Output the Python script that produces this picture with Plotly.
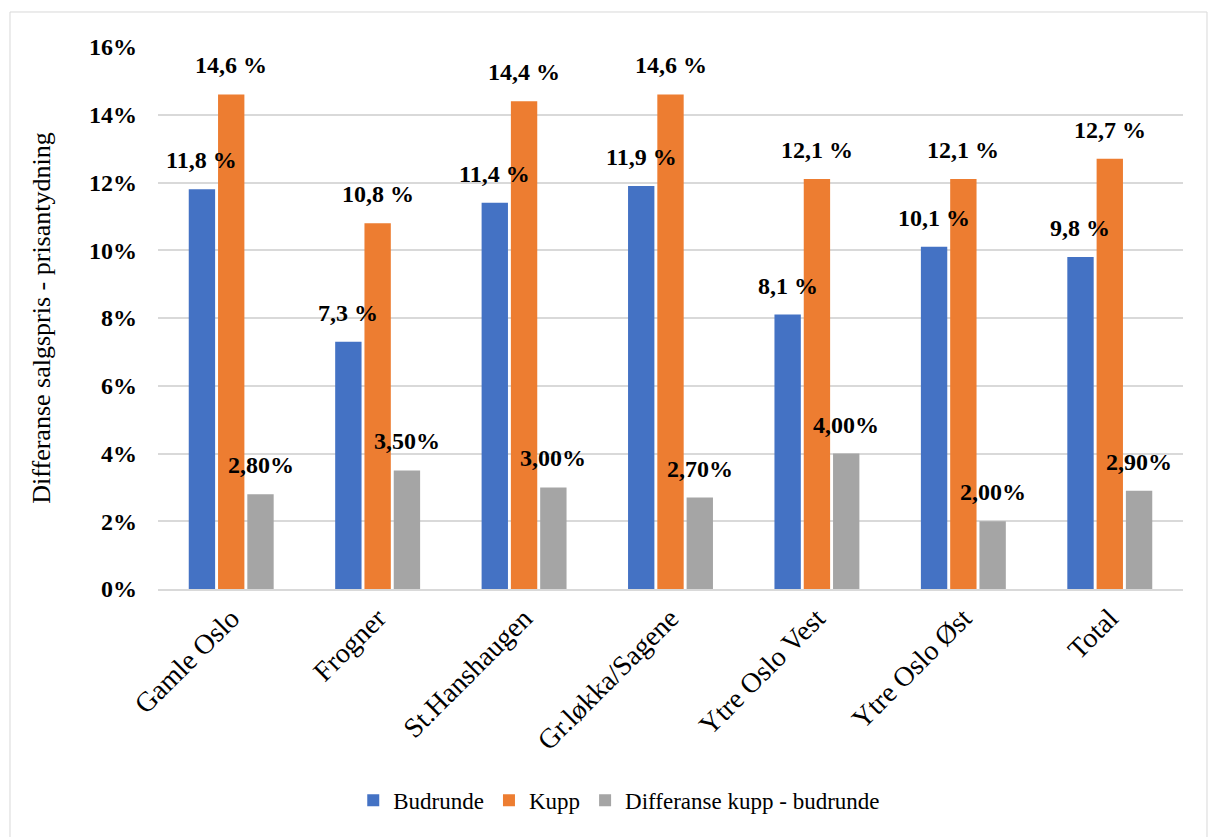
import plotly.graph_objects as go

categories = ["Gamle Oslo", "Frogner", "St.Hanshaugen", "Gr.løkka/Sagene",
              "Ytre Oslo Vest", "Ytre Oslo Øst", "Total"]
budrunde = [11.8, 7.3, 11.4, 11.9, 8.1, 10.1, 9.8]
kupp = [14.6, 10.8, 14.4, 14.6, 12.1, 12.1, 12.7]
differanse = [2.8, 3.5, 3.0, 2.7, 4.0, 2.0, 2.9]

series_names = ["Budrunde", "Kupp", "Differanse kupp - budrunde"]
colors = ["#4472C4", "#ED7D31", "#A5A5A5"]

FONT = "Liberation Serif, Times New Roman, serif"


def lab_short(v):
    return f"{v:.1f} %".replace(".", ",")


def lab_long(v):
    return f"{v:.2f}%".replace(".", ",")


fig = go.Figure()
all_series = [budrunde, kupp, differanse]
for name, vals, col in zip(series_names, all_series, colors):
    fig.add_trace(go.Bar(
        x=categories, y=[v / 100 for v in vals], name=name,
        marker=dict(color=col, line=dict(width=0)),
        hoverinfo="skip",
    ))

# data labels as annotations above each bar
slot_px = 29.3
for i, (vals, fmt) in enumerate(zip(all_series, [lab_short, lab_short, lab_long])):
    for c, v in zip(categories, vals):
        fig.add_annotation(
            x=c, y=v / 100, xref="x", yref="y",
            text=f"<b>{fmt(v)}</b>", showarrow=False,
            xshift=(i - 1) * slot_px, yshift=14, yanchor="bottom",
            font=dict(family=FONT, size=24, color="#000000"),
        )

fig.update_layout(
    width=1208, height=837,
    margin=dict(l=158, r=25, t=47, b=248),
    paper_bgcolor="white", plot_bgcolor="white",
    barmode="group", bargap=0.4, bargroupgap=0.1,
    font=dict(family=FONT, color="#000000"),
    showlegend=True,
    legend=dict(orientation="h", x=0.45, xanchor="center", y=-0.39, yanchor="middle",
                font=dict(family=FONT, size=23, color="#000000"),
                itemwidth=30, traceorder="normal"),
    xaxis=dict(tickangle=-45, tickfont=dict(family=FONT, size=28, color="#000000"),
               showline=True, linecolor="#d9d9d9", linewidth=1.5, ticks="",
               showgrid=False),
    yaxis=dict(range=[0, 0.16], dtick=0.02, tickformat=".0%",
               tickfont=dict(family=FONT, size=24, color="#000000", weight="bold"),
               showgrid=True, gridcolor="#d9d9d9", gridwidth=1.5,
               zeroline=False, showline=False, ticklabelstandoff=20,
               title=dict(text="Differanse salgspris - prisantydning",
                          font=dict(family=FONT, size=26, color="#000000"),
                          standoff=30)),
    shapes=[dict(type="rect", xref="paper", yref="paper",
                 x0=-0.1444, x1=1.0234, y0=-0.46, y1=1.0646,
                 line=dict(color="#d9d9d9", width=1), layer="below")],
)

fig.write_html("out.html")
